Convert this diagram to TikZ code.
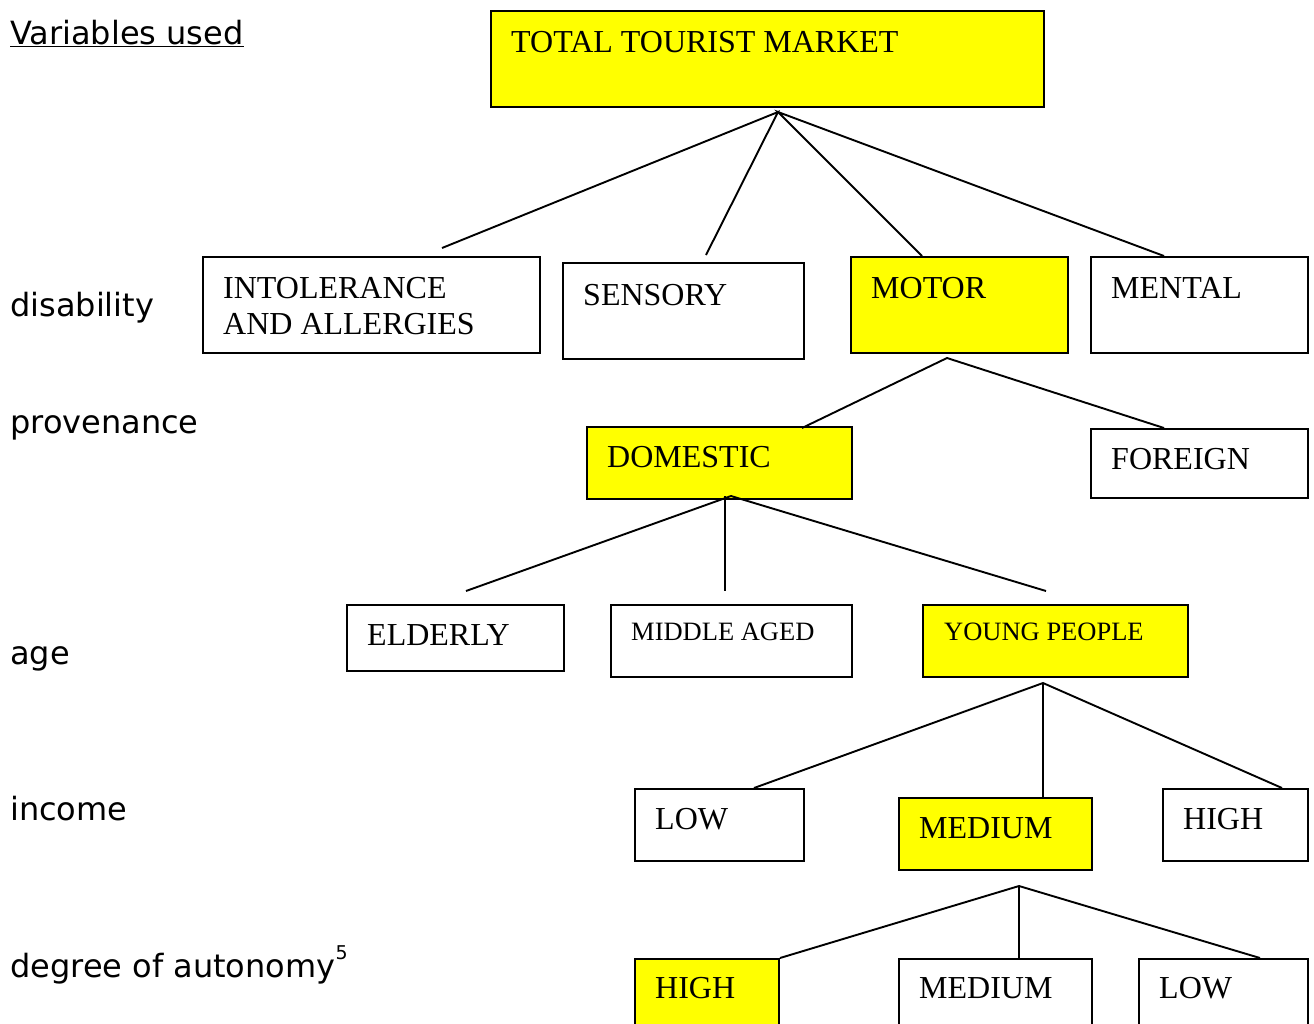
\documentclass[tikz,border=0pt]{standalone}
\usepackage{fontspec}
\setmainfont{Liberation Serif}
\newfontfamily\labelfont{DejaVu Sans}
\usetikzlibrary{calc}
\definecolor{hilite}{RGB}{255,255,0}
\begin{document}
\begin{tikzpicture}[x=1pt,y=-1pt,
  box/.style={draw, line width=2pt, inner sep=0pt, anchor=north west},
  hit/.style={box, fill=hilite},
  boxtext/.style={anchor=base west, inner sep=0pt, font=\fontsize{32}{36}\selectfont},
  smalltext/.style={anchor=base west, inner sep=0pt, font=\fontsize{26.5}{30}\selectfont},
  varlabel/.style={anchor=base west, inner sep=0pt, font=\labelfont\fontsize{32}{38}\selectfont},
  link/.style={line width=1.9pt}]
\useasboundingbox (0,0) rectangle (1314,1023);
\clip (0,0) rectangle (1314,1023);

% segmentation variables
\node[varlabel] (vused) at (10,44) {\underline{Variables used}};
\node[varlabel] (vdis) at (10,316) {disability};
\node[varlabel] (vprov) at (10,433) {provenance};
\node[varlabel] (vage) at (10,664) {age};
\node[varlabel] (vinc) at (10,820) {income};
\node[varlabel] (vaut) at (10,977) {degree of autonomy\raisebox{0.55em}{\fontsize{19}{20}\selectfont 5}};

% root
\node[hit, minimum width=553pt, minimum height=96pt] (total) at (490,10) {};
\node[boxtext] (totalT) at (511,52) {TOTAL TOURIST MARKET};

% disability
\node[box, minimum width=337pt, minimum height=96pt] (intol) at (202,256) {};
\node[boxtext] (intolT) at (223,298) {INTOLERANCE};
\node[boxtext] (intolT2) at (223,334) {AND ALLERGIES};
\node[box, minimum width=241pt, minimum height=96pt] (sens) at (562,262) {};
\node[boxtext] (sensT) at (583,305) {SENSORY};
\node[hit, minimum width=217pt, minimum height=96pt] (motor) at (850,256) {};
\node[boxtext] (motorT) at (871,298) {MOTOR};
\node[box, minimum width=217pt, minimum height=96pt] (mental) at (1090,256) {};
\node[boxtext] (mentalT) at (1111,298) {MENTAL};

% provenance
\node[hit, minimum width=265pt, minimum height=72pt] (dom) at (586,426) {};
\node[boxtext] (domT) at (607,467) {DOMESTIC};
\node[box, minimum width=217pt, minimum height=69pt] (foreign) at (1090,428) {};
\node[boxtext] (foreignT) at (1111,469) {FOREIGN};

% age
\node[box, minimum width=217pt, minimum height=66pt] (elderly) at (346,604) {};
\node[boxtext] (elderlyT) at (367,645) {ELDERLY};
\node[box, minimum width=241pt, minimum height=72pt] (middle) at (610,604) {};
\node[smalltext] (middleT) at (631,640) {MIDDLE AGED};
\node[hit, minimum width=265pt, minimum height=72pt] (young) at (922,604) {};
\node[smalltext] (youngT) at (944,640) {YOUNG PEOPLE};

% income
\node[box, minimum width=169pt, minimum height=72pt] (incLow) at (634,788) {};
\node[boxtext] (incLowT) at (655,829) {LOW};
\node[hit, minimum width=193pt, minimum height=72pt] (incMed) at (898,797) {};
\node[boxtext] (incMedT) at (919,838) {MEDIUM};
\node[box, minimum width=145pt, minimum height=72pt] (incHigh) at (1162,788) {};
\node[boxtext] (incHighT) at (1183,829) {HIGH};

% degree of autonomy
\node[hit, minimum width=144pt, minimum height=90pt] (autHigh) at (634,958) {};
\node[boxtext] (autHighT) at (655,998) {HIGH};
\node[box, minimum width=193pt, minimum height=90pt] (autMed) at (898,958) {};
\node[boxtext] (autMedT) at (919,998) {MEDIUM};
\node[box, minimum width=169pt, minimum height=90pt] (autLow) at (1138,958) {};
\node[boxtext] (autLowT) at (1159,998) {LOW};

% branching points and branch ends
\coordinate (hTotal) at ($(total.south west)+(288,4)$);
\coordinate (eIntol) at ($(intol.north west)+(240,-8)$);
\coordinate (eSens) at ($(sens.north west)+(144,-7)$);
\coordinate (eMotor) at ($(motor.north west)+(72,0)$);
\coordinate (eMental) at ($(mental.north west)+(74,0)$);

\coordinate (hMotor) at ($(motor.south west)+(97,4)$);
\coordinate (eDom) at ($(dom.north west)+(216,2)$);
\coordinate (eForeign) at ($(foreign.north west)+(74,0)$);

\coordinate (hDom) at ($(dom.south west)+(145,-4)$);
\coordinate (sMiddle) at ($(dom.south west)+(139,-4)$);
\coordinate (eElderly) at ($(elderly.north west)+(120,-13)$);
\coordinate (eMiddle) at ($(middle.north west)+(115,-13)$);
\coordinate (eYoung) at ($(young.north west)+(124,-13)$);

\coordinate (hYoung) at ($(young.south west)+(121,5)$);
\coordinate (eIncLow) at ($(incLow.north west)+(120,0)$);
\coordinate (eIncMed) at ($(incMed.north west)+(145,0)$);
\coordinate (eIncHigh) at ($(incHigh.north west)+(120,0)$);

\coordinate (hIncMed) at ($(incMed.south west)+(121,15)$);
\coordinate (eAutHigh) at (autHigh.north east);
\coordinate (eAutMed) at ($(autMed.north west)+(121,0)$);
\coordinate (eAutLow) at ($(autLow.north west)+(122,0)$);

% tree branches
\draw[link] (eIntol) -- (hTotal) -- (eSens);
\draw[link] (eMotor) -- (hTotal) -- (eMental);
\draw[link] (eDom) -- (hMotor) -- (eForeign);
\draw[link] (eElderly) -- (hDom) -- (eYoung);
\draw[link] (sMiddle) -- (eMiddle);
\draw[link] (eIncLow) -- (hYoung) -- (eIncHigh);
\draw[link] (hYoung) -- (eIncMed);
\draw[link] (eAutHigh) -- (hIncMed) -- (eAutLow);
\draw[link] (hIncMed) -- (eAutMed);
\end{tikzpicture}
\end{document}
